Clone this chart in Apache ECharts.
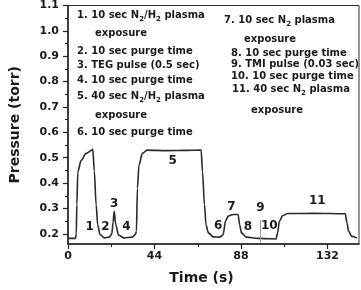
<!DOCTYPE html>
<html><head><meta charset="utf-8">
<script src="https://cdn.jsdelivr.net/npm/echarts@6/dist/echarts.min.js"></script>
<style>html,body{margin:0;padding:0;background:#fff}#c{width:361px;height:290px}</style>
</head><body><div id="c"></div>
<script>
// time (s)
const times = [0, 3.8, 4.2, 4.5, 5, 6.7, 9.2, 12.2, 12.6, 13.4, 14.3, 15.1, 16.3, 18.5, 21, 22.3, 22.9, 23.5, 24.3, 25.7, 28.5, 32.7, 34.3, 34.8, 35.3, 36.1, 37.8, 40.3, 50, 60, 67.7, 68.4, 69.4, 70.2, 71.4, 73.9, 77.2, 78.9, 80.1, 81.5, 84, 86.5, 87.3, 88.2, 90.7, 96.6, 100, 105.8, 106.6, 107.5, 109.2, 111.7, 125, 141, 141.9, 142.7, 144.4, 146.9];
// pressure (torr)
const pressure = [0.182, 0.182, 0.2, 0.315, 0.445, 0.49, 0.517, 0.53, 0.534, 0.447, 0.315, 0.236, 0.197, 0.184, 0.187, 0.2, 0.245, 0.289, 0.236, 0.195, 0.184, 0.187, 0.198, 0.21, 0.38, 0.471, 0.517, 0.53, 0.528, 0.529, 0.53, 0.445, 0.315, 0.236, 0.204, 0.188, 0.187, 0.197, 0.25, 0.27, 0.276, 0.276, 0.236, 0.204, 0.187, 0.182, 0.181, 0.18, 0.204, 0.25, 0.272, 0.28, 0.281, 0.279, 0.243, 0.21, 0.19, 0.184];
// step labels
const stepNames = ['1','2','3','4','5','6','7','8','9','10','11'];
const stepTimes = [11, 19, 23.5, 29.7, 53.2, 76.4, 83.1, 91.5, 97.9, 102.4, 126.8];
const stepValues = [0.226, 0.226, 0.319, 0.226, 0.487, 0.23, 0.308, 0.228, 0.302, 0.23, 0.328];
// TMI pulse marker
const pulseTime = 97.9;
const pulseRange = [0.165, 0.255];
// ticks
const xTicks = [0, 44, 88, 132];
const xMinorTicks = [22, 66, 110];
const yTicks = [0.2, 0.3, 0.4, 0.5, 0.6, 0.7, 0.8, 0.9, 1.0, 1.1];
const yMinorTicks = [0.25, 0.35, 0.45, 0.55, 0.65, 0.75, 0.85, 0.95, 1.05];
// legend text
const legendLeft = ['1. 10 sec N{s|2}/H{s|2} plasma', 'exposure', '2. 10 sec purge time', '3. TEG pulse (0.5 sec)', '4. 10 sec purge time', '5. 40 sec N{s|2}/H{s|2} plasma', 'exposure', '6. 10 sec purge time'];
const legendRight = ['7. 10 sec N{s|2} plasma', 'exposure', '8. 10 sec purge time', '9. TMI pulse (0.03 sec)', '10. 10 sec purge time', '11. 40 sec N{s|2} plasma', 'exposure'];

const layoutLeft = [[77,16],[95,34],[77,52],[77,66],[77,81],[77,97],[95,116],[77,133]];
const layoutRight = [[224,21],[244,40],[231,54],[231,65],[231,77],[232,90],[251,111]];

const FONT = 'DejaVu Sans';
const chart = echarts.init(document.getElementById('c'), null, {renderer:'canvas'});

function legendTexts(lines, layout){
  return lines.map((t,i)=>({
    type:'text', left: layout[i][0], top: layout[i][1]-7, z: 10,
    style:{ text: t, font: 'bold 10px "DejaVu Sans"', fill:'#1a1a1a', lineHeight: 13,
      rich:{ s:{ fontSize: 7, fontWeight:'bold', fontFamily: FONT, lineHeight: 7, verticalAlign:'bottom', fill:'#1a1a1a', padding:[0,0,-1,0] } } }
  }));
}

const axisCommon = {
  axisLine:{show:true, onZero:false, lineStyle:{color:'#222', width:1.5}},
  splitLine:{show:false},
};

chart.setOption({
  animation:false,
  backgroundColor:'#fff',
  grid:{left:65, right:2, top:5, bottom:44, show:true, borderColor:'#333', borderWidth:1},
  xAxis:[{
    type:'value', min:0, max:148, ...axisCommon,
    axisTick:{show:true, inside:false, length:5, lineStyle:{color:'#222', width:1.2}, customValues: xTicks},
    axisLabel:{customValues: xTicks, margin:7, color:'#1a1a1a', fontFamily:FONT, fontWeight:'bold', fontSize:11},
    name:'Time (s)', nameLocation:'middle', nameGap:27,
    nameTextStyle:{fontFamily:FONT, fontWeight:'bold', fontSize:14, color:'#1a1a1a', padding:[0,24,0,0]}
  },{
    type:'value', min:0, max:148, position:'bottom',
    axisLine:{show:false}, splitLine:{show:false},
    axisTick:{show:true, length:3, lineStyle:{color:'#222', width:1.1}, customValues: xMinorTicks},
    axisLabel:{show:false}
  }],
  yAxis:[{
    type:'value', min:0.16, max:1.1, ...axisCommon,
    axisTick:{show:true, length:5, lineStyle:{color:'#222', width:1.2}, customValues: yTicks},
    axisLabel:{customValues: yTicks, margin:9, color:'#1a1a1a', fontFamily:FONT, fontWeight:'bold', fontSize:11,
      formatter: v => v.toFixed(1)},
    name:'Pressure (torr)', nameLocation:'middle', nameGap:46,
    nameTextStyle:{fontFamily:FONT, fontWeight:'bold', fontSize:14, color:'#1a1a1a'}
  },{
    type:'value', min:0.16, max:1.1, position:'left',
    axisLine:{show:false}, splitLine:{show:false},
    axisTick:{show:true, length:3, lineStyle:{color:'#222', width:1.1}, customValues: yMinorTicks},
    axisLabel:{show:false}
  }],
  series:[{
    type:'line', xAxisIndex:0, yAxisIndex:0,
    data: times.map((t,i)=>[t, pressure[i]]),
    showSymbol:false, smooth:0.3, smoothMonotone:'x',
    lineStyle:{color:'#2a2a2a', width:1.6},
    markLine:{silent:true, symbol:'none', label:{show:false},
      lineStyle:{color:'#999', width:1, type:'solid'},
      data:[[{coord:[pulseTime, pulseRange[0]]},{coord:[pulseTime, pulseRange[1]]}]]}
  },{
    type:'scatter', xAxisIndex:0, yAxisIndex:0, symbolSize:0,
    itemStyle:{opacity:1},
    data: stepTimes.map((t,i)=>({value:[t, stepValues[i]], name: stepNames[i]})),
    label:{show:true, position:'inside', formatter: p => p.name, color:'#1a1a1a', opacity:1,
      fontFamily:FONT, fontWeight:'bold', fontSize:12}
  }],
  graphic: legendTexts(legendLeft, layoutLeft).concat(legendTexts(legendRight, layoutRight))
});
</script></body></html>
